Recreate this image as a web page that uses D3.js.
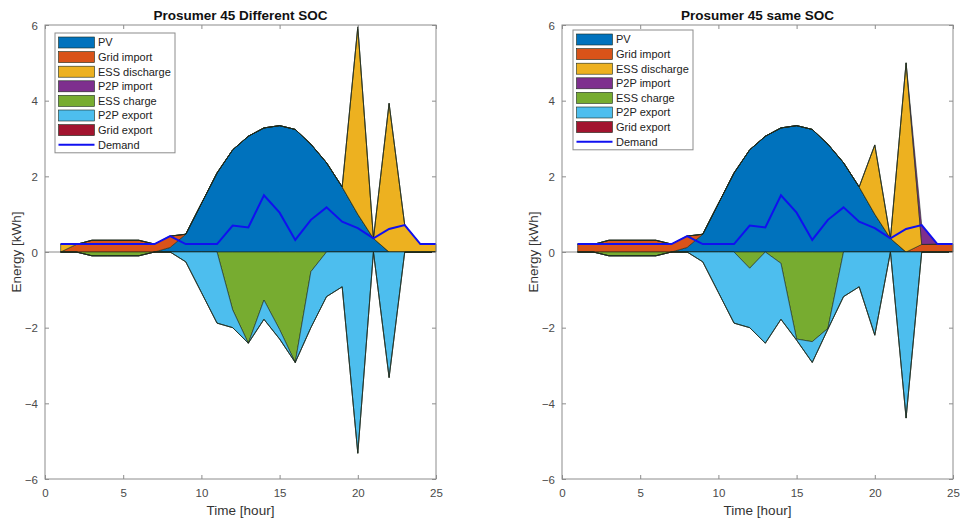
<!DOCTYPE html>
<html>
<head>
<meta charset="utf-8">
<script src="https://cdn.jsdelivr.net/npm/d3@7"></script>
<style>
  html, body { margin: 0; padding: 0; background: #ffffff; }
  svg { display: block; font-family: "Liberation Sans", Arial, Helvetica, sans-serif; }
</style>
</head>
<body>
<svg id="chart" width="962" height="520"></svg>
<script>
// ---------------- DATA ----------------
const hours = [1,2,3,4,5,6,7,8,9,10,11,12,13,14,15,16,17,18,19,20,21,22,23,24,25];

const seriesNames = ["PV","Grid import","ESS discharge","P2P import","ESS charge","P2P export","Grid export"];
const legendLabels = ["PV","Grid import","ESS discharge","P2P import","ESS charge","P2P export","Grid export","Demand"];

const xTicks = [0,5,10,15,20,25];
const yTicks = [-6,-4,-2,0,2,4,6];

const titles = ["Prosumer 45 Different SOC", "Prosumer 45 same SOC"];
const xLabel = "Time [hour]";
const yLabel = "Energy [kWh]";

const demand = [0.21,0.21,0.21,0.21,0.21,0.21,0.21,0.42,0.21,0.21,0.21,0.70,0.65,1.50,1.04,0.32,0.85,1.18,0.80,0.63,0.36,0.61,0.71,0.21,0.21];

// Left panel (Different SOC)
const pvL        = [0,0,0,0,0,0,0,0.12,0.47,1.28,2.09,2.70,3.06,3.28,3.34,3.24,2.85,2.36,1.72,1.00,0.36,0,0,0,0];
const gridImpL   = [0,0.20,0.31,0.31,0.31,0.31,0.21,0.30,0,0,0,0,0,0,0,0,0,0,0,0,0,0,0,0,0];
const essDisL    = [0.21,0,0,0,0,0,0,0,0,0,0,0,0,0,0,0,0,0,0,4.95,0,3.93,0.71,0.21,0.21];
const p2pImpL    = [0,0,0,0,0,0,0,0,0,0,0,0,0,0,0,0,0,0,0,0,0,0,0,0,0];
const essChL     = [0,0,-0.10,-0.10,-0.10,-0.10,0,0,0,0,0,-1.53,-2.41,-1.27,-2.05,-2.92,-0.52,0,0,0,0,0,0,0,0];
const p2pExpL    = [0,0,0,0,0,0,0,0,-0.26,-1.07,-1.88,-0.47,0,-0.51,-0.25,0,-1.48,-1.18,-0.92,-5.32,0,-3.32,0,0,0];
const gridExpL   = [0,0,0,0,0,0,0,0,0,0,0,0,0,0,0,0,0,0,0,0,0,0,0,0,0];

// Right panel (same SOC)
const pvR        = [0,0,0,0,0,0,0,0.12,0.47,1.28,2.09,2.70,3.06,3.28,3.34,3.24,2.85,2.36,1.72,1.00,0.36,0,0,0,0];
const gridImpR   = [0.21,0.20,0.31,0.31,0.31,0.31,0.21,0.30,0,0,0,0,0,0,0,0,0,0,0,0,0,0,0.20,0.21,0.21];
const essDisR    = [0,0,0,0,0,0,0,0,0,0,0,0,0,0,0,0,0,0,0,1.83,0,5.00,0,0,0];
const p2pImpR    = [0,0,0,0,0,0,0,0,0,0,0,0,0,0,0,0,0,0,0,0,0,0,0.50,0,0];
const essChR     = [0,0,-0.10,-0.10,-0.10,-0.10,0,0,0,0,0,-0.43,0,-0.30,-2.30,-2.37,-2.02,0,0,0,0,0,0,0,0];
const p2pExpR    = [0,0,0,0,0,0,0,0,-0.26,-1.07,-1.88,-1.57,-2.41,-1.48,-0.03,-0.55,-0.02,-1.18,-0.92,-2.20,0,-4.39,0,0,0];
const gridExpR   = [0,0,0,0,0,0,0,0,0,0,0,0,0,0,0,0,0,0,0,0,0,0,0,0,0];

// ---------------- STYLE ----------------
const colors = ["#0072BD","#D95319","#EDB120","#7E2F8E","#77AC30","#4DBEEE","#A2142F"];
const demandColor = "#1010F0";

const panels = [
  { x0: 45,  x1: 436, legX: 55,  legY: 33, title: titles[0],
    pos: [pvL, gridImpL, essDisL, p2pImpL], neg: [essChL, p2pExpL, gridExpL] },
  { x0: 562, x1: 953, legX: 573, legY: 30, title: titles[1],
    pos: [pvR, gridImpR, essDisR, p2pImpR], neg: [essChR, p2pExpR, gridExpR] }
];
const yTop = 25, yBot = 479;

const svg = d3.select("#chart");

panels.forEach((p, pi) => {
  const x = d3.scaleLinear().domain([0, 25]).range([p.x0, p.x1]);
  const y = d3.scaleLinear().domain([-6, 6]).range([yBot, yTop]);
  const g = svg.append("g");

  // baseline at zero
  g.append("line")
    .attr("x1", x(0)).attr("x2", x(25))
    .attr("y1", y(0)).attr("y2", y(0))
    .attr("stroke", "#8a8a8a").attr("stroke-width", 1);

  // build rows
  const posKeys = seriesNames.slice(0, 4);
  const negKeys = seriesNames.slice(4);
  const rows = hours.map((h, i) => {
    const r = { h };
    posKeys.forEach((k, j) => r[k] = p.pos[j][i]);
    negKeys.forEach((k, j) => r[k] = p.neg[j][i]);
    return r;
  });
  const posStack = d3.stack().keys(posKeys)(rows);
  const negStack = d3.stack().keys(negKeys)(rows);

  const area = d3.area()
    .x(d => x(d.data.h))
    .y0(d => y(d[0]))
    .y1(d => y(d[1]));

  posStack.forEach((s, j) => {
    g.append("path").attr("d", area(s))
      .attr("fill", colors[j])
      .attr("stroke", "#1c2a1c").attr("stroke-width", 0.6)
      .attr("stroke-linejoin", "miter");
  });
  negStack.forEach((s, j) => {
    g.append("path").attr("d", area(s))
      .attr("fill", colors[4 + j])
      .attr("stroke", "#1c2a1c").attr("stroke-width", 0.6);
  });

  // demand
  const line = d3.line().x((d, i) => x(hours[i])).y(d => y(d));
  g.append("path").attr("d", line(demand))
    .attr("fill", "none").attr("stroke", demandColor).attr("stroke-width", 2);

  // axes box
  g.append("rect")
    .attr("x", x(0)).attr("y", yTop)
    .attr("width", x(25) - x(0)).attr("height", yBot - yTop)
    .attr("fill", "none").attr("stroke", "#8c8c8c").attr("stroke-width", 1);

  // axes with D3
  const tickLen = 4;
  const axB = g.append("g").attr("transform", `translate(0,${yBot})`)
    .call(d3.axisBottom(x).tickValues(xTicks).tickSize(-tickLen).tickPadding(10).tickFormat(d3.format("d")));
  const axT = g.append("g").attr("transform", `translate(0,${yTop})`)
    .call(d3.axisTop(x).tickValues(xTicks).tickSize(-tickLen).tickFormat(""));
  const axL = g.append("g").attr("transform", `translate(${x(0)},0)`)
    .call(d3.axisLeft(y).tickValues(yTicks).tickSize(-tickLen).tickPadding(7).tickFormat(d3.format("d")));
  const axR = g.append("g").attr("transform", `translate(${x(25)},0)`)
    .call(d3.axisRight(y).tickValues(yTicks).tickSize(-tickLen).tickFormat(""));
  [axB, axT, axL, axR].forEach(a => {
    a.select(".domain").remove();
    a.selectAll(".tick line").attr("stroke", "#8c8c8c");
    a.selectAll(".tick text").attr("fill", "#4a4a4a").style("font-size", "11.5px")
      .style("font-family", "'Liberation Sans', Arial, sans-serif");
  });
  axL.selectAll(".tick text").attr("dy", "0.35em");

  // title
  g.append("text")
    .attr("x", (x(0) + x(25)) / 2).attr("y", 20)
    .attr("text-anchor", "middle")
    .style("font-size", "13.5px").style("font-weight", "bold").attr("fill", "#111")
    .text(p.title);

  // axis labels
  g.append("text")
    .attr("x", (x(0) + x(25)) / 2).attr("y", 515)
    .attr("text-anchor", "middle")
    .style("font-size", "13.5px").attr("fill", "#333")
    .text(xLabel);
  g.append("text")
    .attr("transform", `translate(${x(0) - 24},${y(0)}) rotate(-90)`)
    .attr("text-anchor", "middle")
    .style("font-size", "13.5px").attr("fill", "#333")
    .text(yLabel);

  // legend
  const lg = g.append("g").attr("transform", `translate(${p.legX},${p.legY})`);
  const rowH = 14.6, legW = 120, legH = rowH * 8 + 3;
  lg.append("rect").attr("width", legW).attr("height", legH)
    .attr("fill", "#fff").attr("stroke", "#8c8c8c").attr("stroke-width", 1);
  legendLabels.forEach((lab, i) => {
    const cy = 9.5 + i * rowH;
    if (i < 7) {
      lg.append("rect").attr("x", 3.5).attr("y", cy - 5.5).attr("width", 36).attr("height", 11)
        .attr("fill", colors[i]).attr("stroke", "#1c2a1c").attr("stroke-width", 0.6);
    } else {
      lg.append("line").attr("x1", 3.5).attr("x2", 39.5).attr("y1", cy).attr("y2", cy)
        .attr("stroke", demandColor).attr("stroke-width", 2);
    }
    lg.append("text").attr("x", 43).attr("y", cy).attr("dy", "0.35em")
      .style("font-size", "11px").attr("fill", "#222").text(lab);
  });
});
</script>
</body>
</html>
